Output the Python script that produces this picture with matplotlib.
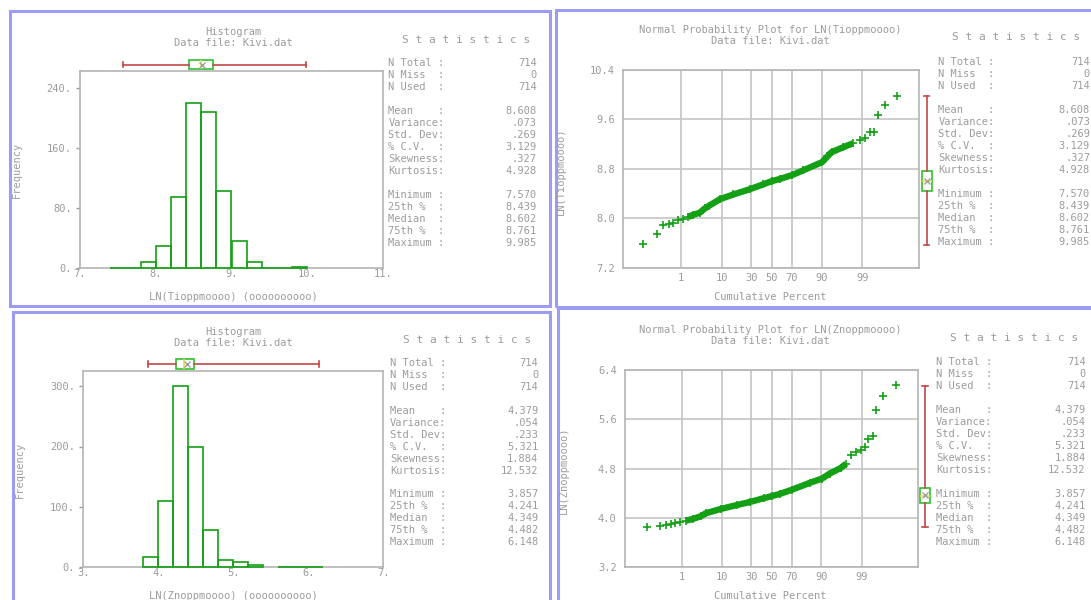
import numpy as np
import matplotlib
matplotlib.use('Agg')
import matplotlib.pyplot as plt
from matplotlib.patches import Rectangle
from statistics import NormalDist

plt.rcParams['font.family'] = ['DejaVu Sans Mono']
plt.rcParams['font.size'] = 7.5

W, H = 1091, 600

# ---- data ----
stat_labels = ['N Total :', 'N Miss  :', 'N Used  :',
               'Mean    :', 'Variance:', 'Std. Dev:', '% C.V.  :', 'Skewness:', 'Kurtosis:',
               'Minimum :', '25th %  :', 'Median  :', '75th %  :', 'Maximum :']
ti_stats = ['714', '0', '714', '8.608', '.073', '.269', '3.129', '.327', '4.928',
            '7.570', '8.439', '8.602', '8.761', '9.985']
zn_stats = ['714', '0', '714', '4.379', '.054', '.233', '5.321', '1.884', '12.532',
            '3.857', '4.241', '4.349', '4.482', '6.148']

ti_bins = [7.4, 7.6, 7.8, 8.0, 8.2, 8.4, 8.6, 8.8, 9.0, 9.2, 9.4, 9.6, 9.8]
ti_counts = [1, 1, 8, 30, 95, 219, 208, 103, 36, 9, 1, 1, 2]
zn_bins = [3.8, 4.0, 4.2, 4.4, 4.6, 4.8, 5.0, 5.2, 5.4, 5.6, 5.8, 6.0]
zn_counts = [17, 109, 300, 200, 61, 12, 9, 3, 0, 1, 1, 1]

ti_pct = [0.050, 0.169, 0.272, 0.427, 0.587, 0.842, 1.18, 1.62, 2.20, 3.29, 4.36, 5.39,
          9.34, 16.4, 28.8, 41.7, 50.0, 58.3, 70.2, 79.1, 90.3, 92.4, 93.8, 96.7, 98.17,
          98.81, 99.16, 99.41, 99.56, 99.67, 99.82, 99.936]
ti_val = [7.577, 7.738, 7.889, 7.905, 7.927, 7.965, 7.99, 8.02, 8.055, 8.09, 8.16, 8.20,
          8.31, 8.385, 8.47, 8.55, 8.60, 8.635, 8.70, 8.775, 8.91, 9.00, 9.07, 9.15, 9.215,
          9.26, 9.30, 9.39, 9.39, 9.67, 9.83, 9.975]
zn_pct = [0.062, 0.193, 0.307, 0.453, 0.621, 0.889, 1.32, 2.02, 3.29, 4.36, 9.34, 18.4,
          28.8, 41.7, 50.0, 58.3, 70.2, 83.6, 90.3, 93.3, 96.3, 97.3, 98.0, 98.5, 98.96,
          99.22, 99.38, 99.55, 99.64, 99.80, 99.934]
zn_val = [3.859, 3.876, 3.886, 3.903, 3.919, 3.93, 3.957, 3.984, 4.027, 4.076, 4.146, 4.21,
          4.26, 4.32, 4.355, 4.39, 4.46, 4.568, 4.638, 4.719, 4.811, 4.881, 5.016, 5.07, 5.108,
          5.15, 5.286, 5.324, 5.746, 5.984, 6.151]

GREEN = '#14a014'
RED = '#c04848'
GREY = '#9c9c9c'
SPINE = '#b4b4b4'
GRID = '#c4c4c4'

nd = NormalDist()


def to_z(p):
    p = np.clip(np.asarray(p, dtype=float) / 100.0, 1e-9, 1 - 1e-9)
    return np.vectorize(nd.inv_cdf, otypes=[float])(p)


def to_pct(z):
    return np.vectorize(nd.cdf, otypes=[float])(np.asarray(z, dtype=float)) * 100.0


fig = plt.figure(figsize=(W / 100, H / 100), dpi=100)


def add_ax(x0, y0, x1, y1):
    return fig.add_axes([x0 / W, 1 - y1 / H, (x1 - x0) / W, (y1 - y0) / H])


def ftext(x, y, s, **kw):
    kw.setdefault('color', GREY)
    kw.setdefault('va', 'center')
    fig.text(x / W, 1 - y / H, s, **kw)


def box_stats(vals):
    v = [float(s) for s in vals]
    return [{'mean': v[3], 'whislo': v[9], 'q1': v[10], 'med': v[11],
             'q3': v[12], 'whishi': v[13], 'fliers': []}]


def draw_box(ax, vals, orientation):
    ax.bxp(box_stats(vals), positions=[1], widths=0.95, capwidths=0.5,
           orientation=orientation, patch_artist=True, showmeans=True,
           boxprops=dict(facecolor='white', edgecolor='#30c030', lw=1.2),
           whiskerprops=dict(color=RED, lw=1.2), capprops=dict(color=RED, lw=1.2),
           medianprops=dict(color='#e8e040', lw=1.2),
           meanprops=dict(marker='x', markeredgecolor='#a0a0a0', markersize=4))
    ax.axis('off')
    ax.patch.set_alpha(0)


def style_spines(ax):
    for s in ax.spines.values():
        s.set_color(SPINE)
        s.set_linewidth(1.2)


def histogram(box, boxax, bins, counts, xlim, yticks, ytop, vals, tcx, ty, ylx, yly, xly, xlab):
    ax = add_ax(*box)
    b = np.array(bins)
    c = np.array(counts)
    keep = c > 0
    ax.bar(b[keep], c[keep], width=0.2, align='edge', fill=False, edgecolor=GREEN, lw=1.2,
           zorder=3, clip_on=False)
    ax.set_xlim(*xlim)
    ax.set_ylim(0, ytop)
    ax.set_xticks(range(xlim[0], xlim[1] + 1))
    ax.set_xticklabels([f'{t}.' for t in range(xlim[0], xlim[1] + 1)])
    ax.set_yticks(yticks)
    ax.set_yticklabels([f'{t}.' for t in yticks])
    ax.tick_params(axis='x', length=0, pad=0.5, colors=GREY)
    ax.tick_params(axis='y', length=3, pad=3, colors=GREY, width=1)
    style_spines(ax)
    bax = add_ax(*boxax)
    draw_box(bax, vals, 'horizontal')
    bax.set_xlim(*xlim)
    bax.set_ylim(0, 2)
    ftext(tcx, ty, 'Histogram', ha='center')
    ftext(tcx, ty + 11, 'Data file: Kivi.dat', ha='center')
    ftext(ylx, yly, 'Frequency', ha='center', rotation=90)
    ftext(tcx, xly, xlab, ha='center')


def probplot(box, boxax, pct, val, band, ylim, name, tcx, ty, ylx, yly, xly):
    ax = add_ax(*box)
    ax.set_xscale('function', functions=(to_z, to_pct))
    pct = np.array(pct)
    val = np.array(val)
    m = (pct >= band[0]) & (pct <= band[1])
    ax.plot(pct[m], val[m], '-', color=GREEN, lw=4.6, solid_capstyle='butt', zorder=3)
    ax.plot(pct, val, '+', color=GREEN, ms=6, mew=1.2, zorder=4)
    ax.set_xlim(float(to_pct(-3.8)), float(to_pct(3.78)))
    ax.set_ylim(*ylim)
    ax.set_xticks([1, 10, 30, 50, 70, 90, 99])
    ax.set_xticklabels(['1', '10', '30', '50', '70', '90', '99'])
    yt = np.linspace(ylim[0], ylim[1], 5)
    ax.set_yticks(yt)
    ax.set_yticklabels([f'{t:.1f}' for t in yt])
    ax.tick_params(length=0, colors=GREY)
    ax.tick_params(axis='y', pad=6)
    ax.tick_params(axis='x', pad=3.5)
    ax.grid(True, color=GRID, lw=1.2)
    style_spines(ax)
    bax = add_ax(*boxax)
    draw_box(bax, name[1], 'vertical')
    bax.set_ylim(*ylim)
    bax.set_xlim(0, 2)
    ftext(tcx, ty, f'Normal Probability Plot for {name[0]}', ha='center')
    ftext(tcx, ty + 11, 'Data file: Kivi.dat', ha='center')
    ftext(ylx, yly, name[0], ha='center', rotation=90)
    ftext(tcx, xly, 'Cumulative Percent', ha='center')


def stats_block(xl, xr, yh, xh, y0, vals):
    ftext(xh, yh, 'S t a t i s t i c s', fontsize=8)
    rows = [0, 1, 2, 4, 5, 6, 7, 8, 9, 11, 12, 13, 14, 15]
    for r, lab, v in zip(rows, stat_labels, vals):
        y = y0 + r * 11.98
        ftext(xl, y, lab, ha='left')
        ftext(xr, y, v, ha='right')


# panel frames
for (x0, y0, x1, y1) in [(9.5, 11, 550, 306), (555.5, 10, 1100, 306.5),
                         (13, 311.5, 550, 610), (557.5, 308, 1100, 610)]:
    fig.patches.append(Rectangle((x0 / W, 1 - y1 / H), (x1 - x0) / W, (y1 - y0) / H,
                                 transform=fig.transFigure, fill=False,
                                 edgecolor='#9c9cf4', lw=2.2))

histogram((80, 71, 383, 268.3), (80, 54, 383, 75), ti_bins, ti_counts, (7, 11),
          [0, 80, 160, 240], 262, ti_stats, 233, 32.3, 16.7, 170, 296.7,
          'LN(Tioppmoooo) (oooooooooo)')
histogram((83.3, 371, 383.3, 567.3), (83.3, 353.5, 383.3, 374.5), zn_bins, zn_counts, (3, 7),
          [0, 100, 200, 300], 325, zn_stats, 233, 331.7, 20, 470, 596,
          'LN(Znoppmoooo) (oooooooooo)')

probplot((623.3, 70, 919, 267.7), (916.2, 70, 937.2, 267.7), ti_pct, ti_val, (1.5, 98.5),
         (7.2, 10.4), ('LN(Tioppmoooo)', ti_stats), 770, 30, 561, 171, 296.7)
probplot((625, 370, 917.7, 567.3), (914.5, 370, 935.5, 567.3), zn_pct, zn_val, (1.2, 97.5),
         (3.2, 6.4), ('LN(Znoppmoooo)', zn_stats), 770, 330, 564, 470, 595.7)

stats_block(388.3, 536.7, 40, 401.7, 63.3, ti_stats)
stats_block(938.3, 1090, 37.3, 951.7, 62, ti_stats)
stats_block(390, 538.3, 340, 403, 362.7, zn_stats)
stats_block(936, 1085.7, 337.7, 950, 362, zn_stats)

fig.savefig('out.png', dpi=100)
